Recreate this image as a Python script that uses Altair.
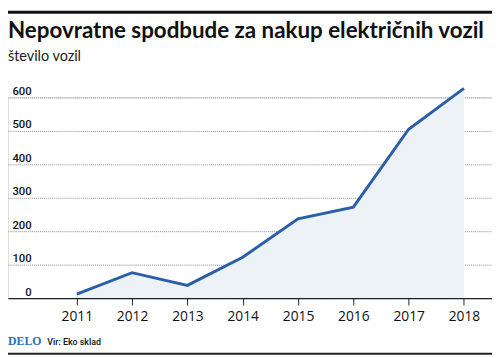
import altair as alt
import pandas as pd

years = [2011, 2012, 2013, 2014, 2015, 2016, 2017, 2018]
values = [12, 76, 38, 122, 237, 272, 505, 627]
y_ticks = [0, 100, 200, 300, 400, 500, 600]

title_text = "Nepovratne spodbude za nakup električnih vozil"
subtitle_text = "število vozil"
brand_text = "DELO"
source_text = "Vir: Eko sklad"

df = pd.DataFrame({"leto": years, "vozila": values})

W, H = 492, 204
TOP = 88
COND = "Roboto"
x_scale = alt.Scale(domain=[2009.757, 2018.507], nice=False, zero=False)
y_scale = alt.Scale(domain=[0, 600], nice=False)

x_enc = alt.X(
    "leto:Q",
    scale=x_scale,
    axis=alt.Axis(
        values=years, format="d", title=None, grid=False,
        domainColor="#222", domainWidth=1.2,
        tickColor="#222", tickSize=7, tickWidth=1,
        labelFont="Open Sans", labelFontSize=14, labelColor="#111",
        labelPadding=5, zindex=1, labelFlush=False, labelOverlap=False,
    ),
)
y_enc = alt.Y(
    "vozila:Q",
    scale=y_scale,
    axis=alt.Axis(
        values=y_ticks, title=None, domain=False, ticks=False, tickSize=0,
        grid=True, gridColor="#8a8a8a", gridDash=[1, 1], gridWidth=1,
        labelAlign="right", labelPadding=-23.6, labelBaseline="alphabetic",
        labelOffset=-3, labelFont=COND, labelFontSize=11.5, labelFontWeight=500,
        labelColor="#111", labelOverlap=False, labelFlush=False,
    ),
)

base = alt.Chart(df).encode(x=x_enc, y=y_enc)
area = base.mark_area(color="#edf2f6", opacity=1)
line = base.mark_line(color="#2a5ea8", strokeWidth=3)

one = alt.Data(values=[{"a": 1}])

top_bar = alt.Chart(one).mark_rule(color="#111", strokeWidth=3).encode(
    x=alt.value(0), x2=alt.value(W), y=alt.value(1.5 - TOP))
bottom_bar = alt.Chart(one).mark_rule(color="#222", strokeWidth=2).encode(
    x=alt.value(0), x2=alt.value(W), y=alt.value(348.5 - TOP))

title = alt.Chart(one).mark_text(
    text=title_text, font="Lato", fontSize=22.7, fontWeight="bold", color="#111",
    align="left", baseline="alphabetic").encode(x=alt.value(0), y=alt.value(27.7 - TOP))
subtitle = alt.Chart(one).mark_text(
    text=subtitle_text, font="Lato", fontSize=14.6, color="#222",
    align="left", baseline="alphabetic").encode(x=alt.value(0), y=alt.value(50.8 - TOP))
brand = alt.Chart(one).mark_text(
    text=brand_text, font="Liberation Serif", fontSize=12, fontWeight="bold",
    color="#2f6db7", align="left", baseline="alphabetic").encode(
    x=alt.value(0), y=alt.value(340 - TOP))
source = alt.Chart(one).mark_text(
    text=source_text, font=COND, fontSize=9, fontWeight=500, color="#111",
    align="left", baseline="alphabetic").encode(x=alt.value(40), y=alt.value(340 - TOP))

chart = alt.layer(area, line, top_bar, bottom_bar, title, subtitle, brand, source).properties(
    width=W, height=H,
    autosize=alt.AutoSizeParams(type="none"),
    padding={"left": 0, "right": 0, "top": TOP, "bottom": 350 - TOP - H},
).configure_view(stroke=None).configure(background="white")

chart.save("out.html", embed_options={"renderer": "svg", "actions": False})
